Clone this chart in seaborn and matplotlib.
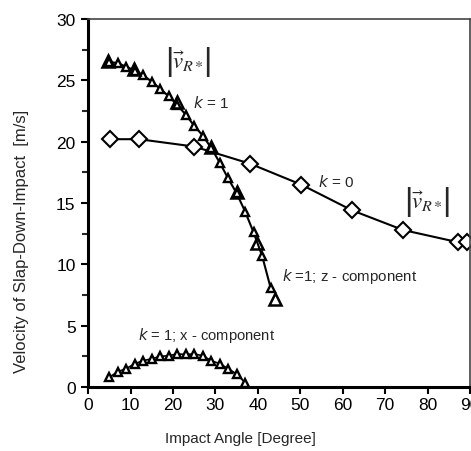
import numpy as np
import pandas as pd
import seaborn as sns
import matplotlib.pyplot as plt
from matplotlib.ticker import MultipleLocator

# k = 0, |v_R*|  (diamonds)
ang_k0 = [5.2, 12.0, 25.0, 38.2, 50.2, 62.2, 74.2, 87.2, 89.3]
vel_k0 = [20.2, 20.2, 19.6, 18.2, 16.5, 14.4, 12.8, 11.8, 11.8]

# k = 1, |v_R*|  (big triangles)
ang_k1 = [4.8, 10.8, 21.0, 29.0, 35.1, 39.8, 44.1]
vel_k1 = [26.6, 25.9, 23.2, 19.6, 15.9, 11.7, 7.2]

# k = 1, z-component (small triangles)
ang_z = [5, 7, 9, 11, 13, 15, 17, 19, 21, 23, 25, 27, 29, 31, 33, 35, 37, 39, 41, 43]
vel_z = [26.5, 26.4, 26.1, 25.8, 25.4, 24.9, 24.3, 23.7, 23.0, 22.2,
         21.3, 20.5, 19.5, 18.3, 17.0, 15.8, 14.3, 12.6, 10.7, 8.1]

# k = 1, x-component (small triangles)
ang_x = [5, 7, 9, 11, 13, 15, 17, 19, 21, 23, 25, 27, 29, 31, 33, 35, 37]
vel_x = [0.8, 1.25, 1.5, 1.9, 2.15, 2.3, 2.5, 2.55, 2.7, 2.65, 2.7, 2.55,
         2.15, 1.9, 1.5, 1.05, 0.35]

sns.set_style("ticks")
plt.rcParams['font.family'] = ['Liberation Sans', 'DejaVu Sans']
plt.rcParams['mathtext.fontset'] = 'stix'

fig = plt.figure(figsize=(4.71, 4.52), dpi=100)
ax = fig.add_axes([0.187, 0.1416, 0.811, 0.8142])

df0 = pd.DataFrame({"a": ang_k0, "v": vel_k0})
df1 = pd.DataFrame({"a": ang_k1, "v": vel_k1})
dfz = pd.DataFrame({"a": ang_z, "v": vel_z})
dfx = pd.DataFrame({"a": ang_x, "v": vel_x})

sns.lineplot(data=df0, x="a", y="v", ax=ax, color="black", lw=1.5,
             marker="D", markersize=8, markerfacecolor="white",
             markeredgecolor="black", markeredgewidth=1.5, sort=False)
sns.lineplot(data=dfz, x="a", y="v", ax=ax, color="black", lw=1.5,
             marker="^", markersize=5.5, markerfacecolor="white",
             markeredgecolor="black", markeredgewidth=1.7, sort=False)
sns.lineplot(data=df1, x="a", y="v", ax=ax, color="black", lw=0,
             marker="^", markersize=9, markerfacecolor="none",
             markeredgecolor="black", markeredgewidth=1.8, sort=False)
sns.lineplot(data=dfx, x="a", y="v", ax=ax, color="black", lw=1.2,
             marker="^", markersize=5.5, markerfacecolor="white",
             markeredgecolor="black", markeredgewidth=1.7, sort=False)

ax.set_xlim(0, 90)
ax.set_ylim(0, 30)
ax.xaxis.set_major_locator(MultipleLocator(10))
ax.yaxis.set_major_locator(MultipleLocator(5))
ax.yaxis.set_minor_locator(MultipleLocator(2.5))
ax.tick_params(axis='both', which='major', direction='out', length=5,
               width=1.5, labelsize=12.5, colors='black')
ax.tick_params(axis='y', which='minor', direction='out', length=4, width=1.5)
ax.tick_params(axis='x', pad=2)
ax.tick_params(axis='y', pad=4)

for s in ['left', 'bottom']:
    ax.spines[s].set_linewidth(2.2)
    ax.spines[s].set_color('black')
for s in ['top', 'right']:
    ax.spines[s].set_visible(True)
    ax.spines[s].set_linewidth(1.2)
    ax.spines[s].set_color('#444444')

ax.set_xlabel("Impact Angle [Degree]", fontsize=11)
ax.set_ylabel("Velocity of Slap-Down-Impact  [m/s]", fontsize=12)
ax.xaxis.set_label_coords(0.40, -0.12)
ax.yaxis.set_label_coords(-0.155, 0.397)

# |v_R*| labels: bars + vector
for cx, cy, xl, xr in [(23.6, 26.6, 19.2, 28.2), (79.9, 15.2, 75.5, 84.5)]:
    ax.text(cx, cy, r'$\vec{v}_{R*}$', fontsize=16.5, ha='center', va='center')
    ax.text(xl, cy, '|', fontsize=23, ha='center', va='center')
    ax.text(xr, cy, '|', fontsize=23, ha='center', va='center')

ax.text(24.7, 23.2, r'$\mathit{k}$ = 1', fontsize=11, va='center',
        math_fontfamily='dejavusans')
ax.text(54.2, 16.8, r'$\mathit{k}$ = 0', fontsize=11, va='center',
        math_fontfamily='dejavusans')
ax.text(45.7, 9.1, r'$\mathit{k}$ =1; z - component', fontsize=10.8, va='center',
        math_fontfamily='dejavusans')
ax.text(11.8, 4.3, r'$\mathit{k}$ = 1; x - component', fontsize=10.6, va='center',
        math_fontfamily='dejavusans')

fig.savefig("out.png", dpi=100)
